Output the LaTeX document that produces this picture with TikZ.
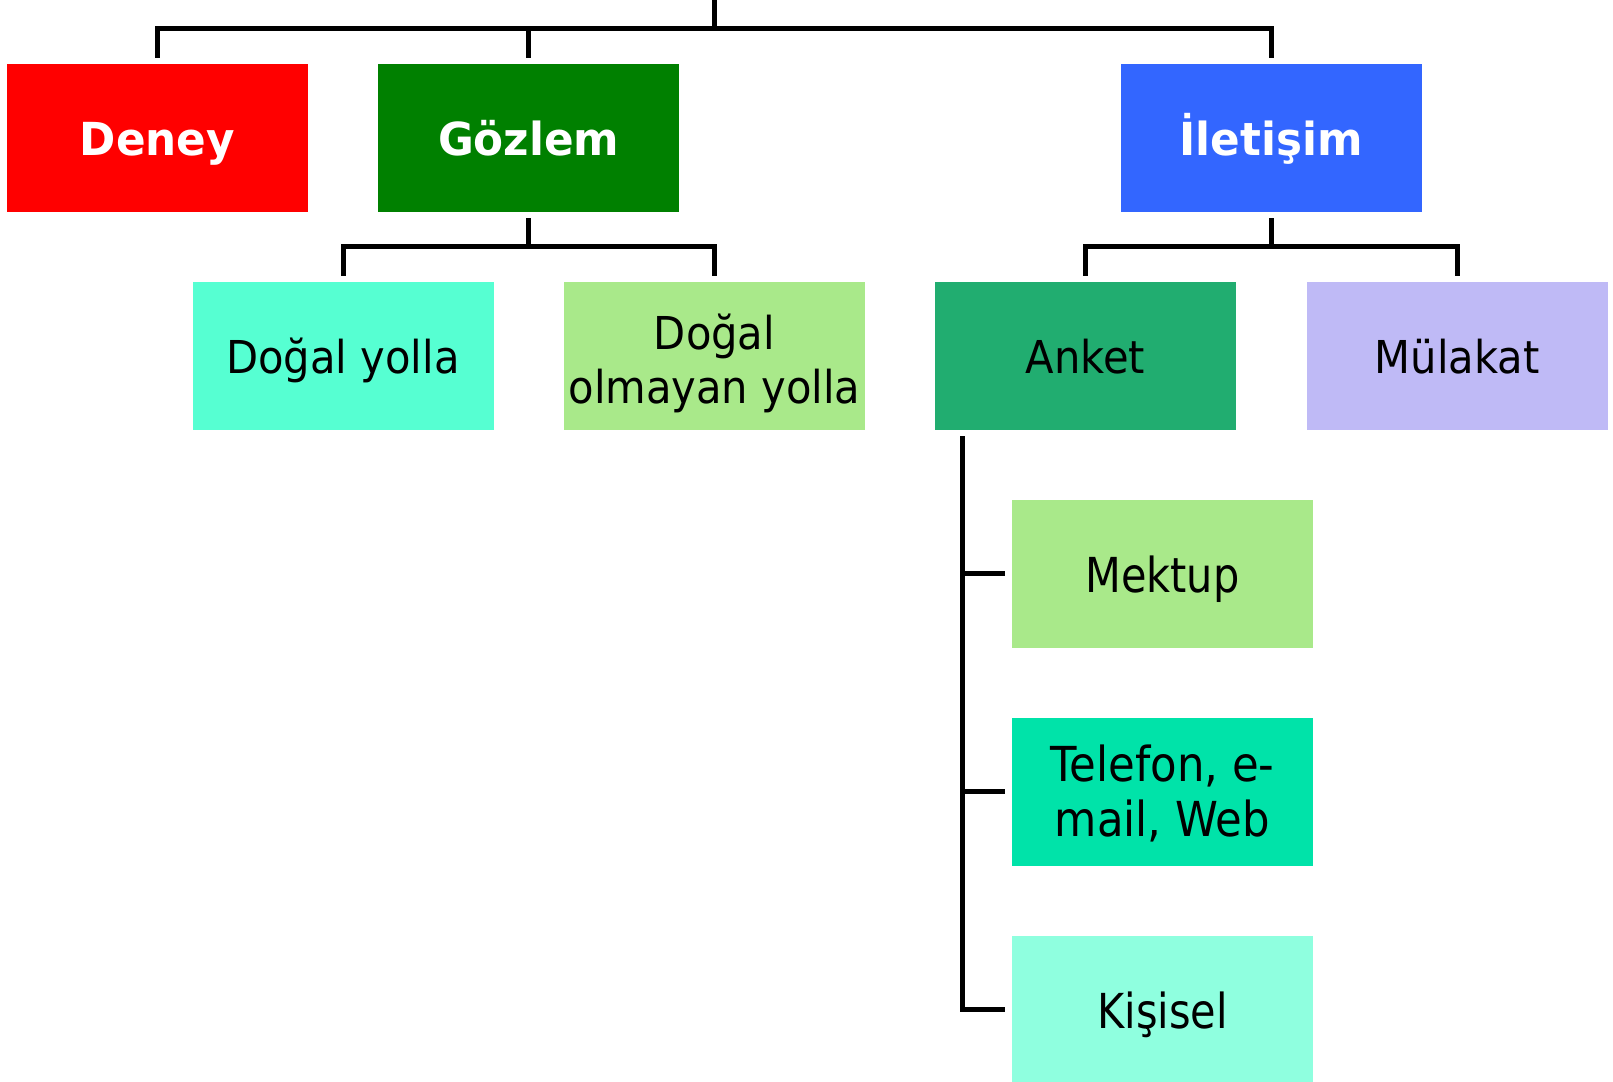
\documentclass[tikz,border=0pt]{standalone}
\usepackage{fontspec}
\setmainfont{DejaVu Sans}
\newfontfamily\titlefont[FakeStretch=0.96]{DejaVu Sans}
\newfontfamily\narrowfont[FakeStretch=0.92]{DejaVu Sans}
\newfontfamily\widefont[FakeStretch=0.86]{DejaVu Sans}
\newfontfamily\telfont[FakeStretch=0.9]{DejaVu Sans}
\usetikzlibrary{calc}
\definecolor{cDeney}{HTML}{FF0000}
\definecolor{cGozlem}{HTML}{008000}
\definecolor{cIletisim}{HTML}{3366FF}
\definecolor{cDogal}{HTML}{56FFD2}
\definecolor{cLight}{HTML}{A9E98A}
\definecolor{cAnket}{HTML}{21AD70}
\definecolor{cMulakat}{HTML}{BFBAF6}
\definecolor{cTelefon}{HTML}{00E3A9}
\definecolor{cKisisel}{HTML}{8FFFDF}
% two-line label, baseline on its first line
\newcommand{\twolines}[2]{\begin{tabular}[t]{@{}c@{}}#1\\#2\end{tabular}}
\begin{document}
\begin{tikzpicture}[x=1pt,y=-1pt,
  box/.style={minimum width=301pt,minimum height=148pt,inner sep=0pt,align=center},
  titlebox/.style={box,text=white,text height=34pt,text depth=0pt,
    font=\titlefont\bfseries\fontsize{45.5}{52}\selectfont},
  narrowbox/.style={box,text=black,text height=34.6pt,text depth=0pt,
    font=\narrowfont\fontsize{45.3}{53.5}\selectfont},
  widebox/.style={box,text=black,text height=38.4pt,text depth=0pt,
    font=\widefont\fontsize{48.2}{54.5}\selectfont},
  conn/.style={draw=black,line width=5pt}]
\useasboundingbox (0,0) rectangle (1613,1081);
\clip (0,0) rectangle (1613,1081);

% top level
\node[titlebox,fill=cDeney]    (deney)    at (157.5,138) {Deney};
\node[titlebox,fill=cGozlem]   (gozlem)   at (528.8,138) {Gözlem};
\node[titlebox,fill=cIletisim] (iletisim) at (1271,138)  {İletişim};

% second level
\node[narrowbox,fill=cDogal]   (dogal)    at (343,356)   {Doğal yolla};
\node[narrowbox,fill=cLight,text height=0pt,text depth=13pt]
                               (olmayan)  at (714.5,356) {\twolines{Doğal}{olmayan yolla}};
\node[narrowbox,fill=cAnket]   (anket)    at (1085.5,356){Anket};
\node[narrowbox,fill=cMulakat] (mulakat)  at (1457,356)  {Mülakat};

% survey types
\node[widebox,fill=cLight]     (mektup)   at (1162.5,573.5) {Mektup};
\node[widebox,fill=cTelefon,text height=0pt,text depth=19.6pt,
      font=\telfont\fontsize{48.2}{54.5}\selectfont]
                               (telefon)  at (1162.5,791.5) {\twolines{Telefon, e-}{mail, Web}};
\node[widebox,fill=cKisisel]   (kisisel)  at (1162.5,1009.5){Kişisel};

% connectors
\coordinate (root) at (714,0);
\draw[conn] (root) -- ($(root)+(0,29)$);
\draw[conn] ($(deney.north)+(0,-6)$) |- ($(iletisim.north)+(0,-35)$) -- ($(iletisim.north)+(0,-6)$);
\draw[conn] ($(gozlem.north)+(0,-35)$) -- ($(gozlem.north)+(0,-6)$);

\draw[conn] ($(gozlem.south)+(0,6)$) -- ($(gozlem.south)+(0,35)$);
\draw[conn] ($(dogal.north)+(0,-6)$) |- ($(olmayan.north)+(0,-35)$) -- ($(olmayan.north)+(0,-6)$);

\draw[conn] ($(iletisim.south)+(0,6)$) -- ($(iletisim.south)+(0,35)$);
\draw[conn] ($(anket.north)+(0,-6)$) |- ($(mulakat.north)+(0,-35)$) -- ($(mulakat.north)+(0,-6)$);

\coordinate (spine) at ($(anket.south west)+(28,6)$);
\draw[conn] (spine) |- ($(kisisel.west)+(-7,0)$);
\draw[conn] (spine |- mektup.west) -- ($(mektup.west)+(-7,0)$);
\draw[conn] (spine |- telefon.west) -- ($(telefon.west)+(-7,0)$);
\end{tikzpicture}
\end{document}
